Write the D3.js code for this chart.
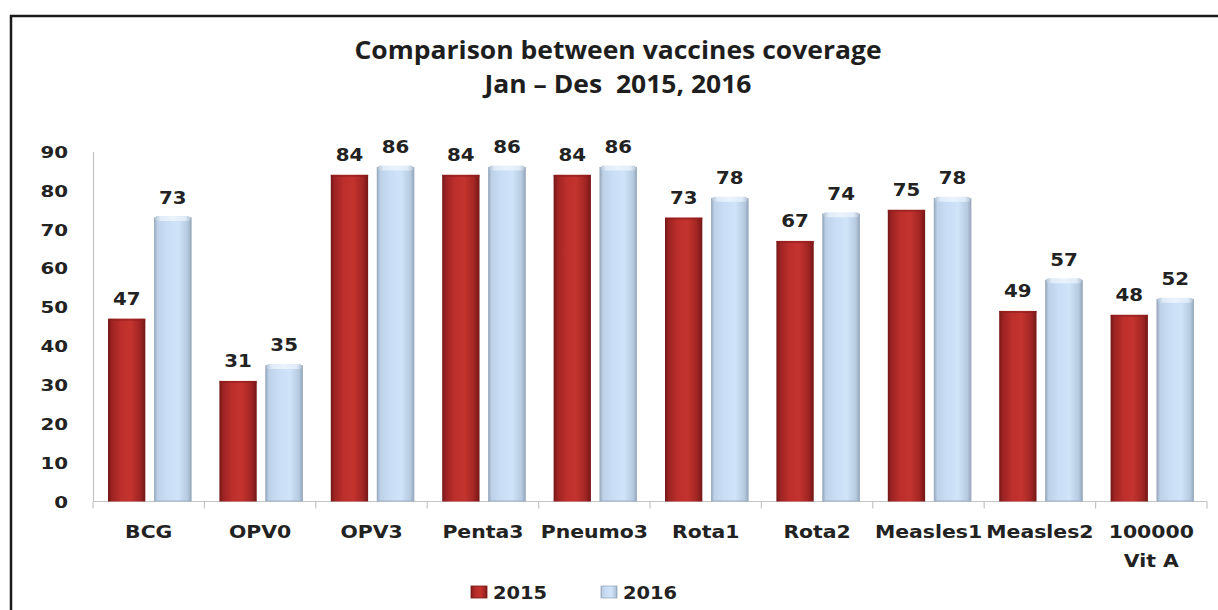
<!DOCTYPE html>
<html>
<head>
<meta charset="utf-8">
<script src="https://cdn.jsdelivr.net/npm/d3@7/dist/d3.min.js"></script>
<style>
  html, body { margin: 0; padding: 0; background: #fff; }
  svg { display: block; }
  .lbl { font-family: "DejaVu Sans", Verdana, sans-serif; font-weight: bold; fill: #222; }
  .title { font-family: "Open Sans", sans-serif; font-weight: 700; fill: #1e1e1e; white-space: pre; }
</style>
</head>
<body>
<svg id="chart" width="1218" height="610"></svg>
<script>
// Vaccine coverage (%), Jan–Dec, by antigen
const categories = ["BCG", "OPV0", "OPV3", "Penta3", "Pneumo3", "Rota1", "Rota2", "Measles1", "Measles2", "100000\nVit A"];
const years = ["2015", "2016"];
const values2015 = [47, 31, 84, 84, 84, 73, 67, 75, 49, 48];
const values2016 = [73, 35, 86, 86, 86, 78, 74, 78, 57, 52];
const yTicks = [0, 10, 20, 30, 40, 50, 60, 70, 80, 90];
const titleLines = ["Comparison between vaccines coverage", "Jan \u2013 Des  2015, 2016"];

const seriesValues = { "2015": values2015, "2016": values2016 };
const rows = categories.map((c, i) => ({ cat: c, vals: years.map(yr => ({ year: yr, value: seriesValues[yr][i] })) }));

const svg = d3.select("#chart");
const W = 1218, H = 610;

// gradients giving the bars a rounded, cylinder-like shading
const defs = svg.append("defs");
function hGrad(id, stops) {
  const g = defs.append("linearGradient").attr("id", id).attr("x1", "0%").attr("x2", "100%").attr("y1", "0%").attr("y2", "0%");
  stops.forEach(([o, c]) => g.append("stop").attr("offset", o).attr("stop-color", c));
}
hGrad("g2015", [["0%", "#741717"], ["10%", "#9c2322"], ["35%", "#bd2f2c"], ["60%", "#c4332e"], ["85%", "#a22624"], ["100%", "#741717"]]);
hGrad("g2016", [["0%", "#95a6b9"], ["9%", "#bdd1e8"], ["35%", "#c9def6"], ["65%", "#cfe3f9"], ["90%", "#b6cadf"], ["100%", "#91a2b6"]]);
hGrad("cap2016", [["0%", "#b4c3d3"], ["15%", "#dfebf8"], ["50%", "#eaf3fd"], ["85%", "#dfebf8"], ["100%", "#b4c3d3"]]);
const fills = { "2015": "url(#g2015)", "2016": "url(#g2016)" };

// outer frame (left and top edges visible)
svg.append("path")
  .attr("d", `M11,${H + 5} L11,16 L${W + 5},16`)
  .attr("fill", "none").attr("stroke", "#1a1a1a").attr("stroke-width", 2.5);

// title
svg.append("g").selectAll("text").data(titleLines).join("text")
  .attr("class", "title")
  .attr("text-anchor", "middle")
  .attr("font-size", 25)
  .attr("transform", (d, i) => `translate(618,${59 + i * 34}) scale(1.06,1)`)
  .text(d => d);

// scales
const x0 = d3.scaleBand().domain(categories).range([93, 1207]).padding(0);
const x1 = d3.scaleBand().domain(years).range([15, x0.bandwidth() - 13]).paddingInner(0.19);
const y = d3.scaleLinear().domain([0, 90]).range([501.5, 151.5]);

const axisColor = "#c4c4c4";

// y axis
const yAxis = svg.append("g").attr("transform", "translate(93,0)")
  .call(d3.axisLeft(y).tickValues(yTicks).tickSize(0).tickSizeOuter(0).tickPadding(0));
yAxis.select(".domain").attr("stroke", axisColor).attr("stroke-width", 1.2);
const tickScale = 1.24;
yAxis.selectAll(".tick text")
  .attr("class", "lbl")
  .attr("font-size", 16)
  .attr("x", -25 / tickScale)
  .attr("dy", "0.36em")
  .attr("transform", `scale(${tickScale},1)`);
yAxis.attr("font-family", null).attr("font-size", null);

// x axis line with ticks at category boundaries
const xAxis = svg.append("g");
xAxis.append("line")
  .attr("x1", x0.range()[0]).attr("x2", x0.range()[1])
  .attr("y1", y(0)).attr("y2", y(0))
  .attr("stroke", axisColor).attr("stroke-width", 1.2);
const bounds = categories.map(c => x0(c)).concat([x0.range()[1]]);
xAxis.selectAll("line.tk").data(bounds).join("line")
  .attr("class", "tk")
  .attr("x1", d => d).attr("x2", d => d)
  .attr("y1", y(0)).attr("y2", y(0) + 7)
  .attr("stroke", axisColor).attr("stroke-width", 1.2);

// category labels
const catScale = 1.2;
const catG = xAxis.selectAll("g.cat").data(categories).join("g")
  .attr("class", "cat")
  .attr("transform", d => `translate(${x0(d) + x0.bandwidth() / 2},538) scale(${catScale},1)`);
catG.append("text")
  .attr("class", "lbl")
  .attr("font-size", 17)
  .attr("text-anchor", "middle")
  .selectAll("tspan").data(d => d.split("\n")).join("tspan")
  .attr("x", 0)
  .attr("dy", (d, i) => i === 0 ? 0 : 29)
  .text(d => d);

// bars
const groups = svg.append("g").selectAll("g.grp").data(rows).join("g")
  .attr("class", "grp")
  .attr("transform", d => `translate(${x0(d.cat)},0)`);

groups.selectAll("rect.bar").data(d => d.vals).join("rect")
  .attr("class", "bar")
  .attr("x", d => x1(d.year))
  .attr("y", d => y(d.value))
  .attr("width", x1.bandwidth())
  .attr("height", d => y(0) - y(d.value))
  .attr("fill", d => fills[d.year]);

// thin outline on the light bars
groups.selectAll("rect.edge").data(d => d.vals.filter(v => v.year === "2016")).join("rect")
  .attr("class", "edge")
  .attr("x", d => x1(d.year) + 0.5)
  .attr("y", d => y(d.value) + 0.5)
  .attr("width", x1.bandwidth() - 1)
  .attr("height", d => y(0) - y(d.value) - 1)
  .attr("fill", "none").attr("stroke", "#9fb0c3").attr("stroke-width", 1);

// light rim at the top of the 2016 bars
groups.selectAll("rect.cap").data(d => d.vals.filter(v => v.year === "2016")).join("rect")
  .attr("class", "cap")
  .attr("x", d => x1(d.year) + 1)
  .attr("y", d => y(d.value) - 1.5)
  .attr("width", x1.bandwidth() - 2)
  .attr("height", 5)
  .attr("rx", 2.5)
  .attr("fill", "url(#cap2016)");

// darker rim at the top of the 2015 bars
groups.selectAll("rect.cap15").data(d => d.vals.filter(v => v.year === "2015")).join("rect")
  .attr("class", "cap15")
  .attr("x", d => x1(d.year))
  .attr("y", d => y(d.value))
  .attr("width", x1.bandwidth())
  .attr("height", 2)
  .attr("fill", "#8e1d1c").attr("opacity", 0.6);

// value labels
const valScale = 1.1;
groups.selectAll("text.val").data(d => d.vals).join("text")
  .attr("class", "lbl val")
  .attr("font-size", 18)
  .attr("text-anchor", "middle")
  .attr("transform", d => `translate(${x1(d.year) + x1.bandwidth() / 2},${y(d.value) - 14}) scale(${valScale},1)`)
  .text(d => d.value);

// legend
const legend = svg.append("g");
const legendItems = [{ year: "2015", x: 471 }, { year: "2016", x: 601 }];
const lg = legend.selectAll("g").data(legendItems).join("g")
  .attr("transform", d => `translate(${d.x},586)`);
lg.append("rect")
  .attr("width", 16).attr("height", 12)
  .attr("fill", d => fills[d.year])
  .attr("stroke", d => d.year === "2015" ? "#7a1818" : "#9aabbf").attr("stroke-width", 0.8);
lg.append("text")
  .attr("class", "lbl")
  .attr("font-size", 18)
  .attr("transform", `translate(22,12.5) scale(1.08,1)`)
  .text(d => d.year);
</script>
</body>
</html>
